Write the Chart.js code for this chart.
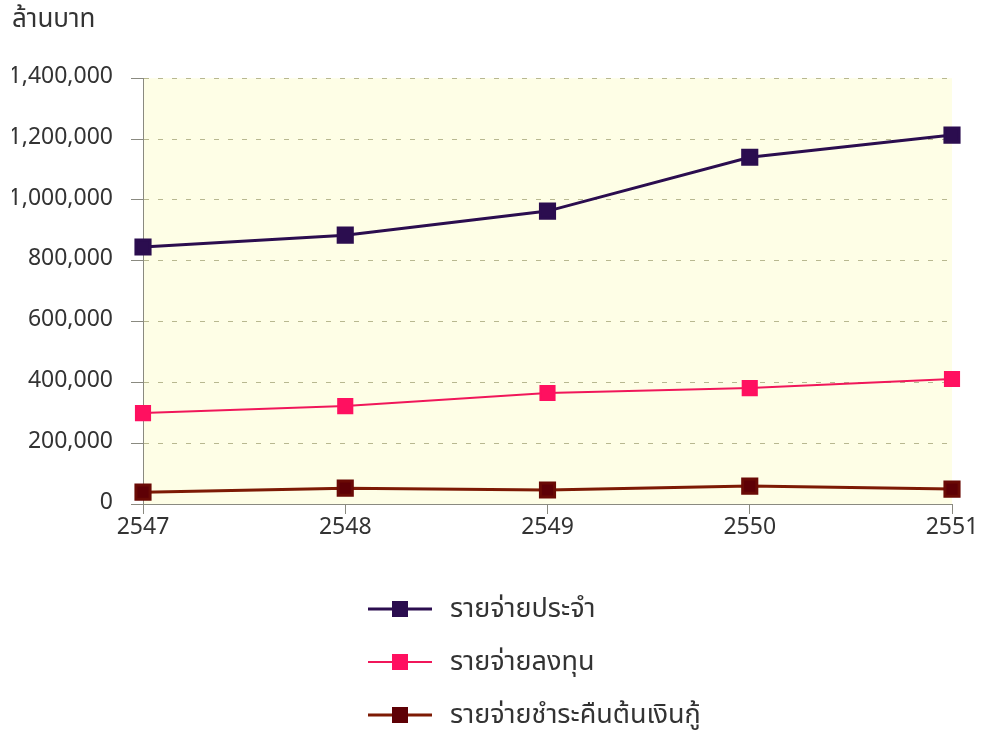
<!DOCTYPE html>
<html>
<head>
<meta charset="utf-8">
<script src="https://cdn.jsdelivr.net/npm/chart.js@4/dist/chart.umd.min.js"></script>
<style>
  html, body { margin: 0; padding: 0; background: #fff; }
  #wrap { position: relative; width: 998px; height: 734px; }
  #myChart { position: absolute; left: 0; top: 0; }
  #legend { position: absolute; left: 368px; top: 582px; font-family: "Noto Sans Thai", "Noto Sans", "DejaVu Sans", sans-serif; font-size: 27px; color: #333; }
  .row { height: 53px; display: flex; align-items: center; }
  .sym { position: relative; width: 64px; height: 20px; margin-right: 18px; }
  .sym .ln { position: absolute; left: 0; right: 0; top: 50%; transform: translateY(-50%); }
  .sym .sq { position: absolute; left: 24px; top: 2px; width: 16px; height: 16px; }
</style>
</head>
<body>
<div id="wrap">
  <canvas id="myChart" width="998" height="734"></canvas>
  <div id="legend"></div>
</div>
<script>
const years = ['2547', '2548', '2549', '2550', '2551'];
const regular = [845000, 884000, 963000, 1140000, 1213000];
const investment = [299000, 322000, 365000, 381000, 411000];
const repayment = [39000, 52000, 46000, 59000, 49000];
const seriesNames = ['รายจ่ายประจำ', 'รายจ่ายลงทุน', 'รายจ่ายชำระคืนต้นเงินกู้'];
const yTicks = [0, 200000, 400000, 600000, 800000, 1000000, 1200000, 1400000];

const fontFamily = '"Noto Sans Thai", "Noto Sans", "Liberation Sans", sans-serif';

const plotBg = {
    id: 'plotBg',
    beforeDraw(chart) {
        const a = chart.chartArea;
        chart.ctx.save();
        chart.ctx.fillStyle = '#fefee6';
        chart.ctx.fillRect(a.left, a.top, a.right - a.left, a.bottom - a.top);
        chart.ctx.restore();
    }
};

const ctx = document.getElementById('myChart');

const chart = new Chart(ctx, {
    type: 'line',
    data: {
        labels: years,
        datasets: [{
            label: seriesNames[0],
            data: regular,
            borderColor: '#2b0d4f',
            backgroundColor: '#2b0d4f',
            pointBorderColor: '#2b0d4f',
            borderWidth: 3,
            legendLine: 3
        }, {
            label: seriesNames[1],
            data: investment,
            borderColor: '#f0175a',
            backgroundColor: '#ff1060',
            pointBorderColor: '#ff1060',
            borderWidth: 2,
            legendLine: 2
        }, {
            label: seriesNames[2],
            data: repayment,
            borderColor: '#7d1a04',
            backgroundColor: '#5e0005',
            pointBorderColor: '#6a0a05',
            borderWidth: 3,
            legendLine: 3
        }]
    },
    options: {
        responsive: false,
        animation: false,
        layout: {
            padding: { left: 12, right: 46, top: 0, bottom: 190 }
        },
        elements: {
            line: { tension: 0 },
            point: { pointStyle: 'rect', radius: 10, hoverRadius: 10, borderWidth: 1 }
        },
        plugins: {
            legend: { display: false },
            tooltip: { enabled: false },
            title: {
                display: true,
                text: 'ล้านบาท',
                align: 'start',
                color: '#333',
                font: { family: fontFamily, size: 26, weight: 'normal' },
                padding: { top: 6, bottom: 41 }
            }
        },
        scales: {
            x: {
                offset: false,
                afterFit: (scale) => { scale.height = 40; },
                grid: {
                    drawOnChartArea: false,
                    drawTicks: true,
                    tickLength: 10,
                    tickColor: '#8a8a80',
                    tickWidth: 1
                },
                border: { color: '#8a8a80', width: 1 },
                ticks: {
                    color: '#333',
                    padding: 2,
                    font: { family: fontFamily, size: 23 }
                }
            },
            y: {
                min: 0,
                max: 1400000,
                afterFit: (scale) => { scale.width = 131; },
                afterBuildTicks: (scale) => { scale.ticks = yTicks.map(v => ({ value: v })); },
                grid: {
                    color: '#b8b890',
                    lineWidth: 1,
                    tickLength: 12,
                    tickColor: '#8a8a80',
                    tickWidth: 1
                },
                border: { color: '#8a8a80', width: 1, dash: [5, 9] },
                ticks: {
                    color: '#333',
                    padding: 18,
                    font: { family: fontFamily, size: 23 },
                    callback: (v) => v.toLocaleString('en-US')
                }
            }
        }
    },
    plugins: [plotBg]
});

// html legend: line with square marker, stacked vertically
const legendBox = document.getElementById('legend');
chart.data.datasets.forEach((ds) => {
    const row = document.createElement('div');
    row.className = 'row';
    const sym = document.createElement('div');
    sym.className = 'sym';
    const ln = document.createElement('div');
    ln.className = 'ln';
    ln.style.height = ds.legendLine + 'px';
    ln.style.background = ds.borderColor;
    const sq = document.createElement('div');
    sq.className = 'sq';
    sq.style.background = ds.backgroundColor;
    sym.appendChild(ln);
    sym.appendChild(sq);
    const txt = document.createElement('span');
    txt.textContent = ds.label;
    row.appendChild(sym);
    row.appendChild(txt);
    legendBox.appendChild(row);
});
</script>
</body>
</html>
